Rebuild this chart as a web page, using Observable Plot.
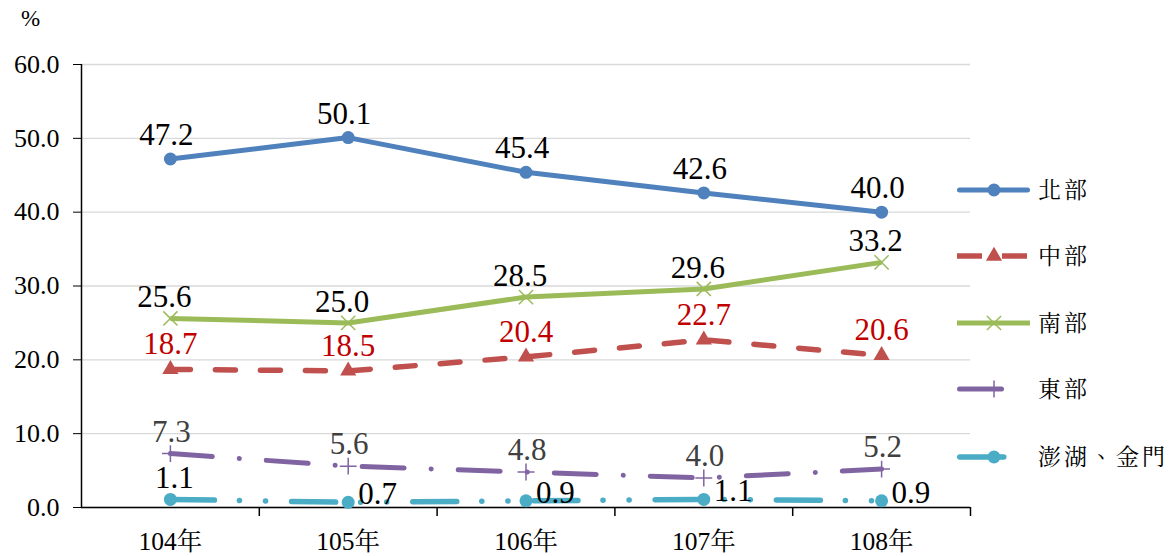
<!DOCTYPE html>
<html><head><meta charset="utf-8">
<script src="https://cdn.jsdelivr.net/npm/d3@7"></script>
<script src="https://cdn.jsdelivr.net/npm/@observablehq/plot@0.6"></script>
<style>
body{margin:0;background:#fff;}
#wrap{position:relative;width:1170px;height:556px;}
#legend{position:absolute;left:940px;top:160px;}
#chart{position:absolute;left:0;top:0;}
</style></head><body>
<div id="wrap"><div id="chart"></div><div id="unit" style="position:absolute;left:21px;top:6px;font-size:23px;color:#000;font-family:'Liberation Serif'">%</div><svg id="legend" width="230" height="330"></svg></div>
<script>
// ---- data ----
const years = [104, 105, 106, 107, 108];
const yearLabels = ["104年", "105年", "106年", "107年", "108年"];
const seriesNames = ["北部", "中部", "南部", "東部", "澎湖、金門"];
const north = [47.2, 50.1, 45.4, 42.6, 40.0];
const central = [18.7, 18.5, 20.4, 22.7, 20.6];
const south = [25.6, 25.0, 28.5, 29.6, 33.2];
const east = [7.3, 5.6, 4.8, 4.0, 5.2];
const islands = [1.1, 0.7, 0.9, 1.1, 0.9];
const yTicks = [0, 10, 20, 30, 40, 50, 60];

// ---- styles ----
const FONT = "'Liberation Serif', 'Noto Serif CJK TC', serif";
const seriesValues = [north, central, south, east, islands];
const styles = [
  {color:"#4F81BD", dash:null, cap:"round", width:5, symbol:"circle", r:6.5, filled:true, label:"#000000", legendLen:73, dy:-24, dx:-4},
  {color:"#C0504D", dash:"20,25", cap:"round", width:5.5, symbol:"triangle", r:6, filled:true, label:"#C00000", legendLen:70, legendDash:"25,20", legendCap:"butt", dy:-25, dx:0},
  {color:"#9BBB59", dash:null, cap:"butt", width:5, symbol:"times", r:6.5, filled:false, label:"#000000", legendLen:73, dy:-21, dx:-6},
  {color:"#8064A2", dash:"42,27,0.1,27", cap:"round", width:5, symbol:"plus", r:5.5, filled:false, label:"#404040", legendLen:50, dy:-22, dx:1},
  {color:"#4BACC6", dash:"44,25,0.1,26,0.1,26", cap:"round", width:5.5, symbol:"circle", r:6.5, filled:true, label:"#000000", legendLen:50, dy:-21, dx:4}
];

const labelMap = new Map(years.map((y, i) => [y, yearLabels[i]]));
const xDomain = [d3.min(years) - 0.5, d3.max(years) + 0.5];
const boundaries = d3.range(xDomain[0] + 1, xDomain[1] + 0.001, 1);

const marks = [
  Plot.gridY(yTicks, {stroke:"#d9d9d9", strokeOpacity:1, strokeWidth:1.4}),
  Plot.axisY(yTicks, {tickSize:8, tickPadding:14, tickFormat:d3.format(".1f"), fontSize:26, label:null, stroke:"#000"}),
  Plot.axisX(years, {tickSize:0, tickPadding:24, tickFormat:d => labelMap.get(d), fontSize:25.5, label:null}),
  Plot.axisX(boundaries, {tickSize:9, tickFormat:() => "", label:null, stroke:"#000", strokeWidth:1.5}),
  Plot.ruleY([0], {stroke:"#000", strokeWidth:1.5}),
  Plot.ruleX([xDomain[0]], {stroke:"#000", strokeWidth:1.5})
];

seriesValues.forEach((vals, si) => {
  const s = styles[si];
  const rows = vals.map((v, i) => ({year: years[i], value: v, i}));
  marks.push(Plot.line(rows, {x:"year", y:"value", stroke:s.color, strokeWidth:s.width,
    strokeDasharray:s.dash || undefined, strokeLinecap:s.cap, strokeLinejoin:"round"}));
  marks.push(Plot.dot(rows, {x:"year", y:"value", symbol:s.symbol, r:s.r,
    fill: s.filled ? s.color : "none", stroke:s.color, strokeWidth: s.filled ? 0 : 1.5}));
  const common = {x:"year", y:"value", text:d => d.value.toFixed(1), fill:s.label, fontSize:31, lineAnchor:"middle"};
  if (si === 4) {
    marks.push(Plot.text(rows.filter(d => d.i === 0), {...common, dx:s.dx, dy:s.dy}));
    marks.push(Plot.text(rows.filter(d => d.i > 0), {...common, dx:10, dy:-8, textAnchor:"start"}));
  } else {
    marks.push(Plot.text(rows, {...common, dx:s.dx, dy:s.dy}));
  }
});

const chart = Plot.plot({
  width:1170, height:556,
  marginLeft:81, marginRight:200, marginTop:64, marginBottom:49,
  style:{background:"transparent", color:"#000"},
  x:{type:"linear", domain:xDomain},
  y:{domain:[0, 60]},
  marks
});
document.getElementById("chart").appendChild(chart);
d3.select(chart).attr("font-family", null).style("font-family", FONT);
d3.select(chart).selectAll("g, text").attr("font-family", null).style("font-family", FONT);

// ---- legend ----
const symMap = {circle:d3.symbolCircle, triangle:d3.symbolTriangle, times:d3.symbolTimes, plus:d3.symbolPlus};
const lg = d3.select("#legend");
const rowY = [30, 96, 163, 229, 297];
styles.forEach((s, i) => {
  const g = lg.append("g").attr("transform", `translate(0,${rowY[i]})`);
  const cap = s.legendCap || s.cap;
  const inset = cap === "round" ? s.width / 2 : 0;
  g.append("line").attr("x1", 17 + inset).attr("x2", 17 + s.legendLen - inset).attr("y1", 0).attr("y2", 0)
    .attr("stroke", s.color).attr("stroke-width", s.width).attr("stroke-linecap", cap)
    .attr("stroke-dasharray", s.legendDash || s.dash);
  g.append("path").attr("transform", "translate(54,0)")
    .attr("d", d3.symbol(symMap[s.symbol], Math.PI * s.r * s.r)())
    .attr("fill", s.filled ? s.color : "none").attr("stroke", s.filled ? "none" : s.color).attr("stroke-width", 1.5);
  g.append("text").attr("x", 98).attr("y", 0).attr("dy", "0.35em")
    .style("font-family", "'Noto Serif CJK TC', serif").attr("font-size", 23).attr("letter-spacing", 3)
    .attr("fill", "#000").text(seriesNames[i]);
});
</script>
</body></html>
